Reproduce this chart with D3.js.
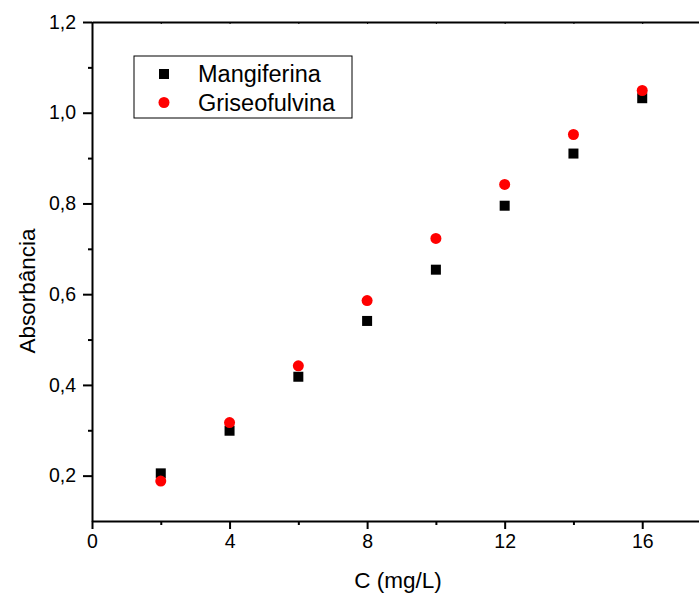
<!DOCTYPE html>
<html>
<head>
<meta charset="utf-8">
<script src="https://cdn.jsdelivr.net/npm/d3@7"></script>
<style>
  body { margin: 0; background: #fff; }
  text { font-family: Arial, "Liberation Sans", sans-serif; fill: #000; }
</style>
</head>
<body>
<div id="chart"></div>
<script>
// Data
const concentrations = [2, 4, 6, 8, 10, 12, 14, 16];
const mangiferina = [0.205, 0.299, 0.418, 0.541, 0.654, 0.795, 0.910, 1.032];
const griseofulvina = [0.188, 0.317, 0.442, 0.586, 0.723, 0.842, 0.952, 1.049];
const xTicks = [0, 4, 8, 12, 16];
const yTicks = [0.2, 0.4, 0.6, 0.8, 1.0, 1.2];
const seriesNames = ["Mangiferina", "Griseofulvina"];

const totalWidth = 699, totalHeight = 596;
const margin = { top: 22, right: -12, bottom: 75, left: 92 };
const width = totalWidth - margin.left - margin.right;
const height = totalHeight - margin.top - margin.bottom;

const svg = d3.select("#chart")
    .append("svg")
    .attr("width", totalWidth)
    .attr("height", totalHeight)
    .append("g")
    .attr("transform", `translate(${margin.left},${margin.top})`);

const x = d3.scaleLinear().domain([0, 18]).range([0, width]);
const y = d3.scaleLinear().domain([0.1, 1.2]).range([height, 0]);

const ptBR = d3.formatLocale({ decimal: ",", thousands: ".", grouping: [3], currency: ["R$", ""] });
const fmt = ptBR.format(".1f");

// minor ticks first
svg.append("g")
    .attr("transform", `translate(0,${height})`)
    .call(d3.axisBottom(x).tickValues([2, 6, 10, 14, 18]).tickSize(4).tickFormat(""))
    .call(g => g.select(".domain").remove())
    .call(g => g.selectAll("line").attr("stroke-width", 2));

svg.append("g")
    .call(d3.axisLeft(y).tickValues([0.3, 0.5, 0.7, 0.9, 1.1]).tickSize(4).tickFormat(""))
    .call(g => g.select(".domain").remove())
    .call(g => g.selectAll("line").attr("stroke-width", 2));

// top axis with tiny inward ticks
svg.append("g")
    .call(d3.axisTop(x).tickValues(d3.range(0, 19, 2)).tickSizeInner(-2).tickSizeOuter(0).tickFormat(""))
    .call(g => g.select(".domain").attr("stroke-width", 2))
    .call(g => g.selectAll("line").attr("stroke-width", 1));

// main axes
svg.append("g")
    .attr("transform", `translate(0,${height})`)
    .call(d3.axisBottom(x).tickValues(xTicks).tickSizeInner(8).tickSizeOuter(0).tickPadding(5))
    .call(g => g.select(".domain").attr("stroke-width", 2))
    .call(g => g.selectAll("line").attr("stroke-width", 2))
    .call(g => g.selectAll("text").style("font-size", "19.5px").attr("fill", "#000"));

svg.append("g")
    .call(d3.axisLeft(y).tickValues(yTicks).tickFormat(fmt).tickSizeInner(9).tickSizeOuter(0).tickPadding(7))
    .call(g => g.select(".domain").attr("stroke-width", 2))
    .call(g => g.selectAll("line").attr("stroke-width", 2))
    .call(g => g.selectAll("text").style("font-size", "19.5px").attr("fill", "#000"));

// axis titles
svg.append("text")
    .attr("x", 398 - margin.left)
    .attr("y", 588 - margin.top)
    .attr("text-anchor", "middle")
    .style("font-size", "22.5px")
    .text("C (mg/L)");

svg.append("text")
    .attr("transform", "rotate(-90)")
    .attr("x", -(291 - margin.top))
    .attr("y", 35 - margin.left)
    .attr("text-anchor", "middle")
    .style("font-size", "22.5px")
    .text("Absorbância");

// points
svg.selectAll(".sq")
    .data(concentrations)
    .enter()
    .append("rect")
    .attr("x", (d, i) => x(d) - 5)
    .attr("y", (d, i) => y(mangiferina[i]) - 5)
    .attr("width", 10)
    .attr("height", 10)
    .attr("fill", "black");

svg.selectAll(".dot")
    .data(concentrations)
    .enter()
    .append("circle")
    .attr("cx", d => x(d))
    .attr("cy", (d, i) => y(griseofulvina[i]))
    .attr("r", 5.5)
    .attr("fill", "red");

// legend
const legend = svg.append("g").attr("transform", `translate(${134 - margin.left},${56 - margin.top})`);
legend.append("rect")
    .attr("width", 218)
    .attr("height", 62)
    .attr("fill", "none")
    .attr("stroke", "#000")
    .attr("stroke-width", 1);

seriesNames.forEach((name, i) => {
    const cy = 18 + i * 28.5;
    if (i === 0) {
        legend.append("rect")
            .attr("x", 25).attr("y", cy - 5)
            .attr("width", 10).attr("height", 10)
            .attr("fill", "black");
    } else {
        legend.append("circle")
            .attr("cx", 30).attr("cy", cy)
            .attr("r", 5.5)
            .attr("fill", "red");
    }
    legend.append("text")
        .attr("x", 64)
        .attr("y", cy + 8)
        .style("font-size", "23.5px")
        .text(name);
});
</script>
</body>
</html>
